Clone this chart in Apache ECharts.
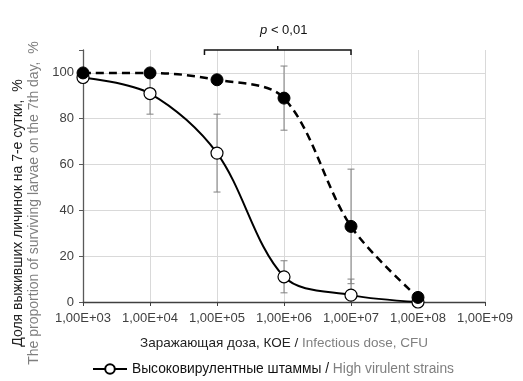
<!DOCTYPE html>
<html><head><meta charset="utf-8">
<script src="https://cdn.jsdelivr.net/npm/echarts@6/dist/echarts.min.js"></script>
<style>html,body{margin:0;padding:0;background:#fff}#c{width:523px;height:381px}</style>
</head><body><div id="c"></div>
<script>
const doses = [1e3, 1e4, 1e5, 1e6, 1e7, 1e8];
const highVirulent = [98, 91, 65, 11, 3, 0];
const highErr = [null, 9, 17, 7, 7, null];
const lowVirulent = [100, 100, 97, 89, 33, 2];
const lowErr = [null, null, null, 14, 25, 2];
const xTickLabels = ['1,00E+03','1,00E+04','1,00E+05','1,00E+06','1,00E+07','1,00E+08','1,00E+09'];
const yTicks = [0, 20, 40, 60, 80, 100];
const bracketRange = [6.5e4, 1e7];
const bracketY = 110;

const FONT = '"Liberation Sans", Arial, sans-serif';
const GRAY = '#7f7f7f';

function errData(vals, errs) {
  const out = [];
  doses.forEach((d, i) => { if (errs[i] != null) out.push([d, vals[i], errs[i]]); });
  return out;
}
function errRender(params, api) {
  const x = api.value(0), y = api.value(1), e = api.value(2);
  const hiV = y + e, loV = Math.max(0, y - e);
  const top = api.coord([x, hiV]), bot = api.coord([x, loV]);
  const hw = 3.5;
  const st = { stroke: '#808080', lineWidth: 1 };
  const ch = [
    { type: 'line', shape: { x1: top[0], y1: top[1], x2: bot[0], y2: bot[1] }, style: st },
    { type: 'line', shape: { x1: top[0] - hw, y1: top[1], x2: top[0] + hw, y2: top[1] }, style: st }
  ];
  if (y - e >= 0) ch.push({ type: 'line', shape: { x1: bot[0] - hw, y1: bot[1], x2: bot[0] + hw, y2: bot[1] }, style: st });
  return { type: 'group', children: ch };
}

const chart = echarts.init(document.getElementById('c'), null, { renderer: 'canvas' });
chart.setOption({
  animation: false,
  textStyle: { fontFamily: FONT },
  grid: { left: 83, right: 38, top: 50, bottom: 79 },
  xAxis: {
    type: 'log', logBase: 10, min: 1e3, max: 1e9,
    axisLine: { show: true, onZero: false, lineStyle: { color: '#404040', width: 1.3 } },
    axisTick: { show: true, length: 4, lineStyle: { color: '#404040' } },
    minorTick: { show: false },
    splitLine: { show: true, showMaxLine: true, lineStyle: { color: '#d9d9d9', width: 1 } },
    axisLabel: {
      color: '#404040', fontSize: 13, margin: 10, fontFamily: FONT,
      formatter: v => xTickLabels[Math.round(Math.log10(v)) - 3]
    },
    name: '{a|Заражающая доза, КОЕ / }{b|Infectious dose, CFU}',
    nameLocation: 'middle', nameGap: 34,
    nameTextStyle: {
      verticalAlign: 'top',
      rich: {
        a: { color: '#222', fontSize: 13.5, fontFamily: FONT },
        b: { color: GRAY, fontSize: 13.5, fontFamily: FONT }
      }
    }
  },
  yAxis: {
    type: 'value', min: 0, max: 110, interval: 20,
    axisLine: { show: true, lineStyle: { color: '#595959', width: 1.3 } },
    axisTick: { show: true, length: 4, lineStyle: { color: '#595959' } },
    splitLine: { show: true, showMaxLine: false, lineStyle: { color: '#d9d9d9', width: 1 } },
    axisLabel: {
      color: '#404040', fontSize: 13, margin: 9, fontFamily: FONT,
      formatter: v => yTicks.indexOf(v) >= 0 ? String(v) : ''
    }
  },
  legend: {
    left: 92, top: 362, itemWidth: 34, itemHeight: 12, itemGap: 6, padding: 0,
    data: ['Высоковирулентные штаммы'],
    formatter: n => '{a|' + n + ' / }{b|High virulent strains}',
    textStyle: {
      rich: {
        a: { color: '#111', fontSize: 13.8, fontFamily: FONT },
        b: { color: GRAY, fontSize: 13.8, fontFamily: FONT }
      }
    }
  },
  graphic: [
    { type: 'text', x: 18, y: 213, rotation: Math.PI / 2,
      style: { text: 'Доля выживших личинок на 7-е сутки,  %', fill: '#222', font: '14px ' + FONT, letterSpacing: 0.5, align: 'center', verticalAlign: 'middle' } },
    { type: 'text', x: 34, y: 203, rotation: Math.PI / 2,
      style: { text: 'The proportion of surviving larvae on the 7th day,  %', fill: GRAY, font: '14px ' + FONT, align: 'center', verticalAlign: 'middle' } }
  ],
  series: [
    { type: 'custom', name: 'errHigh', renderItem: errRender, data: errData(highVirulent, highErr), z: 1, silent: true },
    { type: 'custom', name: 'errLow', renderItem: errRender, data: errData(lowVirulent, lowErr), z: 1, silent: true },
    {
      type: 'custom', name: 'bracket', z: 1, silent: true,
      data: [[bracketRange[0], bracketRange[1], bracketY]],
      renderItem: (params, api) => {
        const a = api.coord([api.value(0), api.value(2)]);
        const b = api.coord([api.value(1), api.value(2)]);
        const mx = (a[0] + b[0]) / 2;
        const st = { stroke: '#111', lineWidth: 1.5, fill: null };
        return { type: 'group', children: [
          { type: 'polyline', shape: { points: [[a[0], a[1] + 5], [a[0], a[1]], [b[0], b[1]], [b[0], b[1] + 5]] }, style: st },
          { type: 'line', shape: { x1: mx, y1: a[1], x2: mx, y2: a[1] - 4 }, style: st },
          { type: 'text', x: mx + 6, y: a[1] - 20, style: {
              text: '{i|p} < 0,01', align: 'center', verticalAlign: 'middle',
              font: '13px ' + FONT, fill: '#111',
              rich: { i: { fontStyle: 'italic', fontSize: 13, fontFamily: FONT, fill: '#111' } } } }
        ] };
      }
    },
    {
      type: 'line', name: 'Высоковирулентные штаммы', z: 3,
      data: doses.map((d, i) => [d, highVirulent[i]]),
      smooth: 0.33, symbol: 'circle', symbolSize: 12,
      lineStyle: { color: '#000', width: 2 },
      itemStyle: { color: '#fff', borderColor: '#000', borderWidth: 1.2 }
    },
    {
      type: 'line', name: 'Низковирулентные штаммы', z: 4,
      data: doses.map((d, i) => [d, lowVirulent[i]]),
      smooth: 0.33, symbol: 'circle', symbolSize: 12,
      lineStyle: { color: '#000', width: 2.5, type: [8, 5] },
      itemStyle: { color: '#000', borderColor: '#000', borderWidth: 1 }
    }
  ]
});
</script></body></html>
